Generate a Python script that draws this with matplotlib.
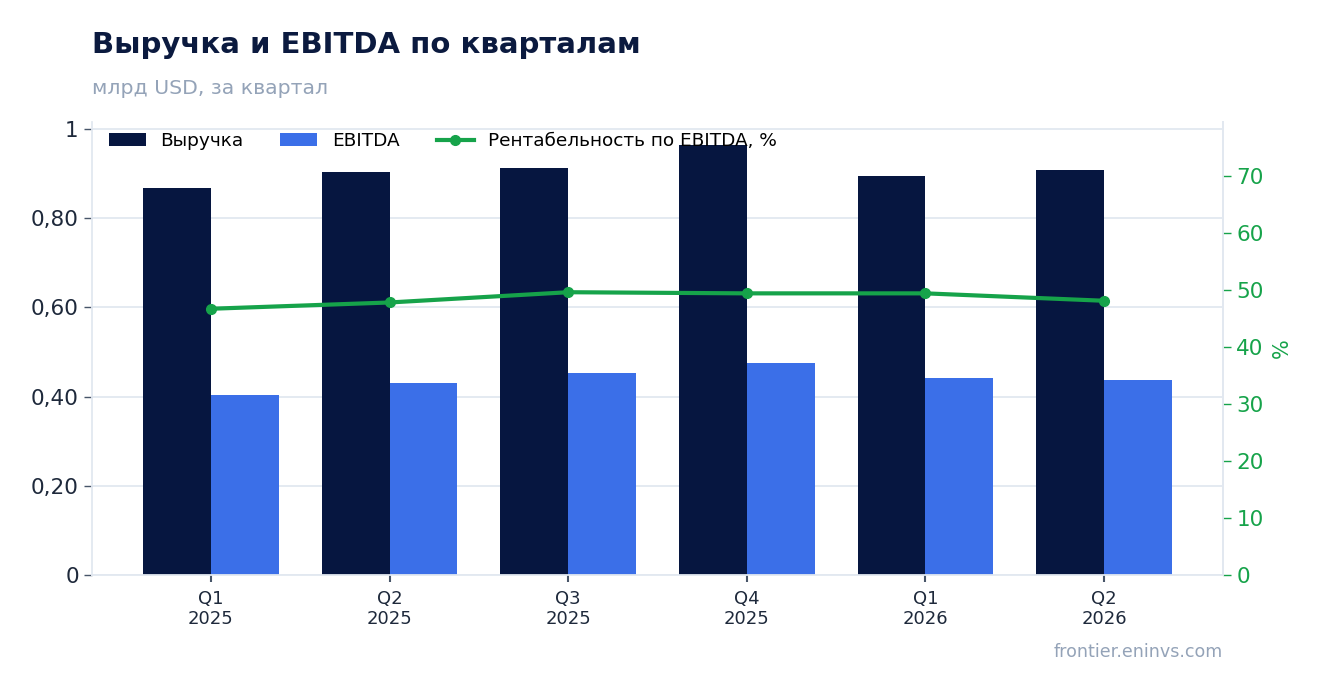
import numpy as np
import matplotlib
matplotlib.use('Agg')
import matplotlib.pyplot as plt

quarters = ['Q1\n2025', 'Q2\n2025', 'Q3\n2025', 'Q4\n2025', 'Q1\n2026', 'Q2\n2026']
revenue = [0.868, 0.904, 0.913, 0.964, 0.895, 0.908]
ebitda = [0.404, 0.431, 0.453, 0.476, 0.442, 0.436]
margin = [46.7, 47.8, 49.6, 49.4, 49.4, 48.1]
yticks_left = [0, 0.2, 0.4, 0.6, 0.8, 1.0]
yticks_left_lab = ['0', '0,20', '0,40', '0,60', '0,80', '1']
yticks_right = [0, 10, 20, 30, 40, 50, 60, 70]

navy = '#061640'
blue = '#3b6fe8'
green = '#16a34a'
grid = '#e2e8f0'

plt.rcParams['font.family'] = ['DejaVu Sans']

fig = plt.figure(figsize=(13.23, 6.93), dpi=100)
ax = fig.add_axes([0.0695, 0.1703, 0.855, 0.654])
x = np.arange(len(quarters))
w = 0.38

b1 = ax.bar(x - w / 2, revenue, w, color=navy, label='Выручка', zorder=2)
b2 = ax.bar(x + w / 2, ebitda, w, color=blue, label='EBITDA', zorder=2)
ax.set_xlim(-0.666, 5.666)
ax.set_ylim(0, 1.016)
ax.set_yticks(yticks_left)
ax.set_yticklabels(yticks_left_lab)
ax.set_xticks(x)
ax.set_xticklabels(quarters, fontsize=13, color='#1e293b', linespacing=1.1)
ax.tick_params(axis='y', labelsize=15.5, colors='#1e293b', length=6, width=1, color='#475569')
ax.tick_params(axis='x', length=5, width=1.5, color='#475569', pad=6)
ax.grid(axis='y', color=grid, lw=1.3, zorder=0)
ax.set_axisbelow(True)
ax.spines['top'].set_visible(False)
for s in ['left', 'bottom', 'right']:
    ax.spines[s].set_color(grid)
    ax.spines[s].set_linewidth(1.3)

ax2 = ax.twinx()
l1, = ax2.plot(x, margin, color=green, lw=3, marker='o', ms=7, zorder=3)
ax2.set_ylim(0, 79.5)
ax2.set_yticks(yticks_right)
ax2.tick_params(axis='y', labelsize=15.5, colors=green, length=6, width=1)
ax2.set_ylabel('%', color=green, fontsize=15, labelpad=6)
for s in ['top', 'left', 'bottom']:
    ax2.spines[s].set_visible(False)
ax2.spines['right'].set_color(grid)
ax2.spines['right'].set_linewidth(1.3)

ax2.legend([b1, b2, l1], ['Выручка', 'EBITDA', 'Рентабельность по EBITDA, %'],
           loc='upper left', bbox_to_anchor=(0.0, 1.014), ncol=3, frameon=False,
           fontsize=13.3, handlelength=2.0, columnspacing=2.0, handletextpad=0.8)

fig.text(0.0695, 0.935, 'Выручка и EBITDA по кварталам', fontsize=21, fontweight='bold', color='#0b1a3f', va='center')
fig.text(0.0695, 0.873, 'млрд USD, за квартал', fontsize=14.7, color='#94a3b8', va='center')
fig.text(0.9244, 0.059, 'frontier.eninvs.com', fontsize=12.6, color='#94a3b8', ha='right', va='center')

fig.savefig('out.png', dpi=100)
